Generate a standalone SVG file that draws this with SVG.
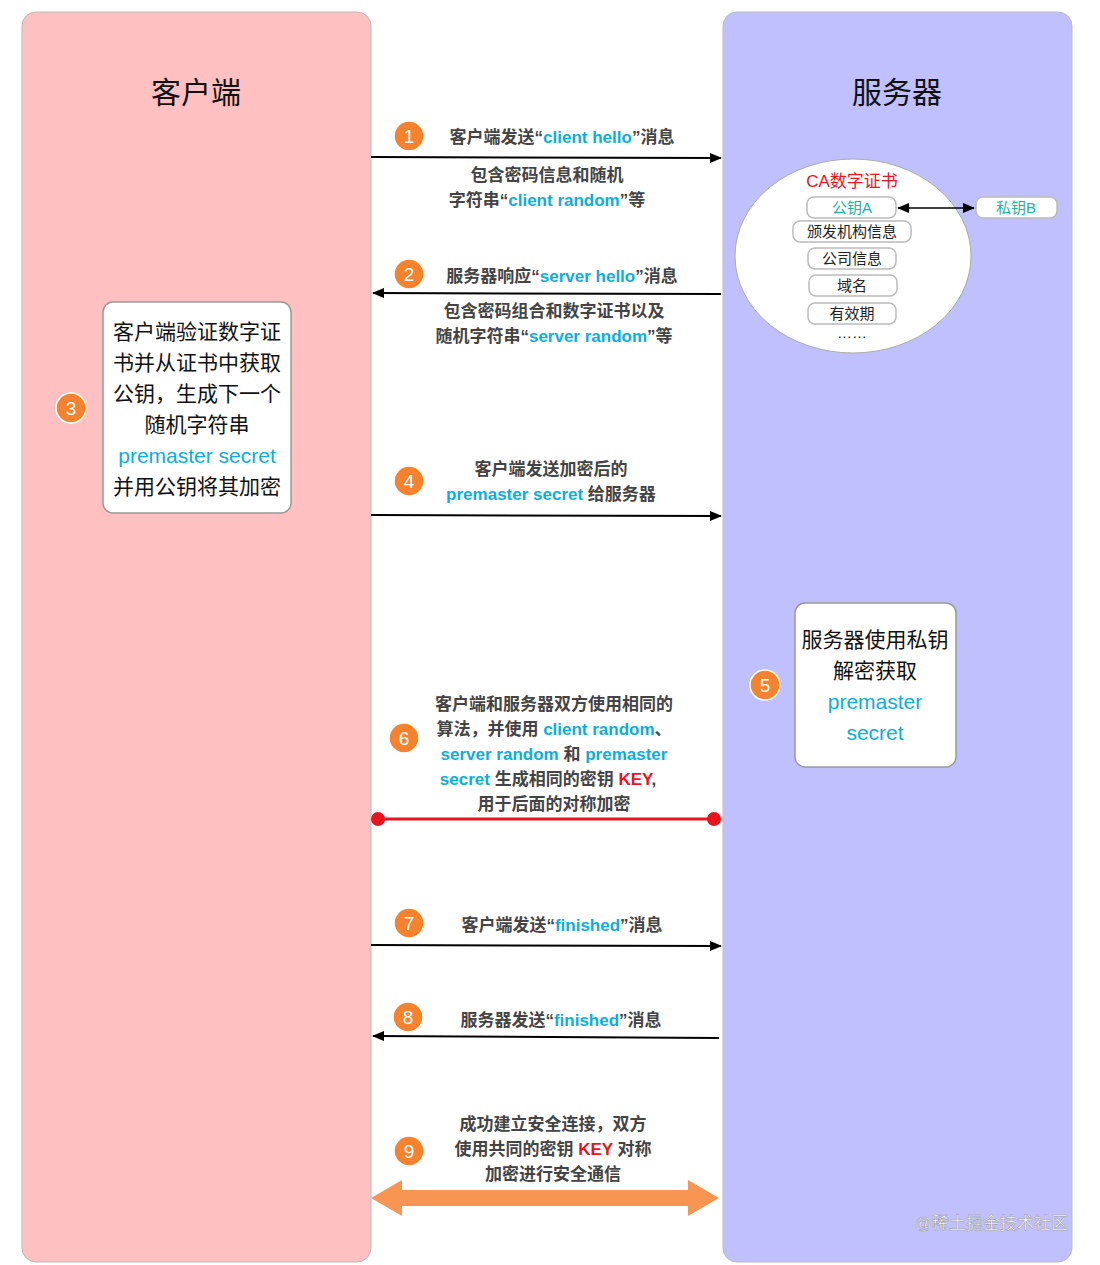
<svg xmlns="http://www.w3.org/2000/svg" width="1100" height="1265" viewBox="0 0 1100 1265">
<defs>
<style>
text{font-family:"Liberation Sans","Noto Sans CJK SC",sans-serif;}
.lbl{font-size:17px;fill:#444;text-anchor:middle;font-weight:bold}
.num circle{fill:#F7822E;stroke:#fff;stroke-width:1.5}
.num text{fill:#fff;font-size:19px;text-anchor:middle}
.pill{fill:#fff;stroke:#bbb;stroke-width:1.5}
.pt{font-size:15px;fill:#222;text-anchor:middle}
.big{font-size:21px;fill:#111;text-anchor:middle}
.ln{stroke:#000;stroke-width:2;fill:none}
.c{fill:#0AAEE0}
.r{fill:#E8131C}
</style>
<marker id="ah" markerWidth="12" markerHeight="10" refX="11" refY="5" orient="auto-start-reverse" markerUnits="userSpaceOnUse"><path d="M0,0 L12,5 L0,10 Z" fill="#000"/></marker>
<marker id="dot" markerWidth="16" markerHeight="16" refX="8" refY="8" markerUnits="userSpaceOnUse"><circle cx="8" cy="8" r="7" fill="#E8131C"/></marker>
</defs>
<rect width="1100" height="1265" fill="#fff"/>
<g id="client"><rect x="22" y="12" width="349" height="1250" rx="14" fill="#FEC0C0" stroke="#bbb"/><text x="196" y="103" font-size="30" text-anchor="middle" fill="#111">客户端</text></g>
<g id="server"><rect x="723" y="12" width="349" height="1250" rx="14" fill="#C0C0FE" stroke="#bbb"/><text x="897" y="103" font-size="30" text-anchor="middle" fill="#111">服务器</text></g>

<g id="cert">
<ellipse cx="853" cy="256" rx="118" ry="97" fill="#fff" stroke="#aaa"/>
<text x="852" y="187" font-size="17" text-anchor="middle" class="r">CA数字证书</text>
<rect class="pill" x="807" y="197" width="89" height="21" rx="7"/><text class="pt" x="852" y="213" style="fill:#1AB2A0">公钥A</text>
<rect class="pill" x="793" y="221" width="118" height="21" rx="7"/><text class="pt" x="852" y="237">颁发机构信息</text>
<rect class="pill" x="808" y="248" width="88" height="21" rx="7"/><text class="pt" x="852" y="264">公司信息</text>
<rect class="pill" x="809" y="275" width="88" height="21" rx="7"/><text class="pt" x="852" y="291">域名</text>
<rect class="pill" x="808" y="303" width="88" height="21" rx="7"/><text class="pt" x="852" y="319">有效期</text>
<text class="pt" x="852" y="338">……</text>
</g>
<g id="keyB"><rect class="pill" x="976" y="197" width="81" height="21" rx="7"/><text class="pt" x="1016" y="213" style="fill:#1AB2A0">私钥B</text></g>

<g id="n3">
<rect x="103" y="302" width="188" height="211" rx="10" fill="#fff" stroke="#999" stroke-width="1.5"/>
<text class="big" x="197" y="339">客户端验证数字证</text>
<text class="big" x="197" y="370">书并从证书中获取</text>
<text class="big" x="197" y="401">公钥，生成下一个</text>
<text class="big" x="197" y="432">随机字符串</text>
<text class="big c" x="197" y="463">premaster secret</text>
<text class="big" x="197" y="494">并用公钥将其加密</text>
</g>
<g id="n5">
<rect x="795" y="603" width="161" height="164" rx="10" fill="#fff" stroke="#999" stroke-width="1.5"/>
<text class="big" x="875" y="647">服务器使用私钥</text>
<text class="big" x="875" y="678">解密获取</text>
<text class="big c" x="875" y="709">premaster</text>
<text class="big c" x="875" y="740">secret</text>
</g>

<g id="connectors">
<line class="ln" x1="898" y1="208" x2="974" y2="208" marker-start="url(#ah)" marker-end="url(#ah)" style="stroke-width:1.5"/>
<line class="ln" x1="371" y1="157" x2="721" y2="158" marker-end="url(#ah)"/>
<line class="ln" x1="721" y1="294" x2="373" y2="293" marker-end="url(#ah)"/>
<line class="ln" x1="371" y1="515" x2="721" y2="516" marker-end="url(#ah)"/>
<line x1="378" y1="819" x2="714" y2="819" stroke="#E8131C" stroke-width="3" marker-start="url(#dot)" marker-end="url(#dot)"/>
<line class="ln" x1="371" y1="945" x2="721" y2="946" marker-end="url(#ah)"/>
<line class="ln" x1="719" y1="1038" x2="373" y2="1036" marker-end="url(#ah)"/>
<path d="M371,1198 L402,1180 L402,1190 L688,1190 L688,1180 L719,1198 L688,1216 L688,1206 L402,1206 L402,1216 Z" fill="#F89552"/>
</g>

<g id="labels">
<text class="lbl" x="562" y="143">客户端发送“<tspan class="c">client hello</tspan>”消息</text>
<text class="lbl" x="547" y="181">包含密码信息和随机</text>
<text class="lbl" x="547" y="206">字符串“<tspan class="c">client random</tspan>”等</text>
<text class="lbl" x="562" y="282">服务器响应“<tspan class="c">server hello</tspan>”消息</text>
<text class="lbl" x="554" y="317">包含密码组合和数字证书以及</text>
<text class="lbl" x="554" y="342">随机字符串“<tspan class="c">server random</tspan>”等</text>
<text class="lbl" x="551" y="475">客户端发送加密后的</text>
<text class="lbl" x="551" y="500"><tspan class="c">premaster secret</tspan> 给服务器</text>
<text class="lbl" x="554" y="710">客户端和服务器双方使用相同的</text>
<text class="lbl" x="554" y="735">算法，并使用 <tspan class="c">client random</tspan>、</text>
<text class="lbl" x="554" y="760"><tspan class="c">server random</tspan> 和 <tspan class="c">premaster</tspan></text>
<text class="lbl" x="548" y="785"><tspan class="c">secret</tspan> 生成相同的密钥 <tspan class="r">KEY</tspan>,</text>
<text class="lbl" x="554" y="810">用于后面的对称加密</text>
<text class="lbl" x="562" y="931">客户端发送“<tspan class="c">finished</tspan>”消息</text>
<text class="lbl" x="561" y="1026">服务器发送“<tspan class="c">finished</tspan>”消息</text>
<text class="lbl" x="553" y="1130">成功建立安全连接，双方</text>
<text class="lbl" x="553" y="1155">使用共同的密钥 <tspan class="r">KEY</tspan> 对称</text>
<text class="lbl" x="553" y="1180">加密进行安全通信</text>
</g>

<g class="num">
<g id="b1"><circle cx="409" cy="136" r="15"/><text x="409" y="143">1</text></g>
<g id="b2"><circle cx="409" cy="274" r="15"/><text x="409" y="281">2</text></g>
<g id="b3"><circle cx="71" cy="408" r="15"/><text x="71" y="415">3</text></g>
<g id="b4"><circle cx="409" cy="481" r="15"/><text x="409" y="488">4</text></g>
<g id="b5"><circle cx="765" cy="685" r="15"/><text x="765" y="692">5</text></g>
<g id="b6"><circle cx="404" cy="738" r="15"/><text x="404" y="745">6</text></g>
<g id="b7"><circle cx="409" cy="923" r="15"/><text x="409" y="930">7</text></g>
<g id="b8"><circle cx="408" cy="1017" r="15"/><text x="408" y="1024">8</text></g>
<g id="b9"><circle cx="409" cy="1151" r="15"/><text x="409" y="1158">9</text></g>
</g>
<text x="1068" y="1229" font-size="17" text-anchor="end" fill="#fff" stroke="#999" stroke-width="0.5">@稀土掘金技术社区</text>
</svg>
